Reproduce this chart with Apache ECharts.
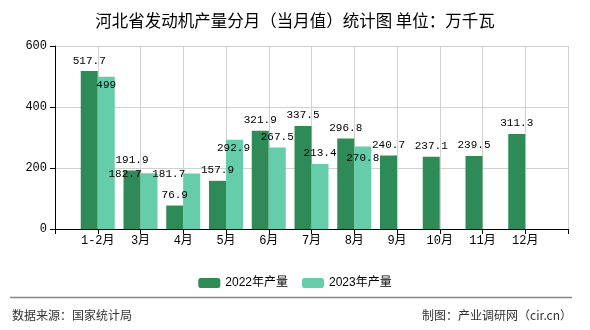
<!DOCTYPE html>
<html>
<head>
<meta charset="utf-8">
<script src="https://cdn.jsdelivr.net/npm/echarts@6/dist/echarts.min.js"></script>
<style>
html,body{margin:0;padding:0;background:#fff;}
#chart{width:590px;height:330px;}
</style>
</head>
<body>
<div id="chart"></div>
<script>
var categories = ['1-2月','3月','4月','5月','6月','7月','8月','9月','10月','11月','12月'];
var values2022 = [517.7,191.9,76.9,157.9,321.9,337.5,296.8,240.7,237.1,239.5,311.3];
var values2023 = [499,182.7,181.7,292.9,267.5,213.4,270.8];
var yTicks = [0,200,400,600];
var seriesNames = ['2022年产量','2023年产量'];
var titleText = '河北省发动机产量分月（当月值）统计图 单位：万千瓦';
var sourceText = '数据来源：国家统计局';
var makerText = '制图：产业调研网（cir.cn）';

// label offsets (style only)
var offsets2023 = [[0,19],[-24,11],[-23,11],[-1,19],[0,0],[0,0],[0,22]];

var axisData = [''].concat(categories).concat(['']);
function pad(arr){
  var out = ['-'];
  for (var i=0;i<categories.length;i++){ out.push(i<arr.length ? arr[i] : '-'); }
  out.push('-');
  return out;
}
var d2022 = pad(values2022);
var d2023 = pad(values2023).map(function(v,i){
  var k = i-1;
  if (v === '-' || !offsets2023[k]) return v;
  return {value: v, label: {offset: offsets2023[k]}};
});

var mono = "'Liberation Mono','DejaVu Sans Mono',monospace";
var chart = echarts.init(document.getElementById('chart'), null, {renderer:'canvas'});
chart.setOption({
  animation: false,
  backgroundColor: '#fff',
  title: {
    text: titleText, left: 'center', top: 7,
    textStyle: {fontSize: 16.5, fontWeight: 'normal', color: '#000', fontFamily: "'Noto Sans CJK SC',sans-serif"}
  },
  legend: {
    data: seriesNames, left: 'center', top: 272, itemWidth: 22, itemHeight: 10, itemGap: 14,
    textStyle: {fontSize: 12, color: '#000', fontFamily: "'Liberation Sans','Noto Sans CJK SC',sans-serif"}
  },
  grid: {left: 55, right: 22, top: 46, bottom: 101, containLabel: false},
  xAxis: {
    type: 'category', data: axisData, boundaryGap: false,
    axisLine: {lineStyle: {color: '#000', width: 1}},
    axisTick: {show: true, interval: 0, length: 5, lineStyle: {color: '#000'}},
    axisLabel: {interval: 0, fontSize: 12, color: '#000', margin: 6, fontFamily: "'Liberation Mono','Noto Sans CJK SC',monospace"},
    splitLine: {show: true, interval: 0, lineStyle: {color: '#d0d0d0', width: 1}}
  },
  yAxis: {
    type: 'value', min: yTicks[0], max: yTicks[yTicks.length-1], interval: 200,
    axisLine: {show: true, lineStyle: {color: '#000', width: 1}},
    axisTick: {show: true, length: 5, lineStyle: {color: '#000'}},
    axisLabel: {fontSize: 12, color: '#000', margin: 8, fontFamily: mono},
    splitLine: {show: true, lineStyle: {color: '#d0d0d0', width: 1}}
  },
  series: [
    {
      name: seriesNames[0], type: 'bar', data: d2022, barWidth: 17, barGap: '0%',
      itemStyle: {color: '#2E8B57'},
      label: {show: true, position: 'top', distance: 5, fontSize: 11, color: '#000', fontFamily: mono}
    },
    {
      name: seriesNames[1], type: 'bar', data: d2023, barWidth: 17, barGap: '0%',
      itemStyle: {color: '#66CDAA'},
      label: {show: true, position: 'top', distance: 5, fontSize: 11, color: '#000', fontFamily: mono}
    }
  ],
  graphic: [
    {type: 'line', shape: {x1: 10, y1: 297.5, x2: 572, y2: 297.5}, style: {stroke: '#888', lineWidth: 1.5}},
    {type: 'text', left: 12, top: 309, style: {text: sourceText, fontSize: 12, fill: '#333', fontFamily: "'Noto Sans CJK SC',sans-serif"}},
    {type: 'text', right: 18, top: 309, style: {text: makerText, fontSize: 12, fill: '#333', fontFamily: "'Noto Sans CJK SC',sans-serif"}}
  ]
});
</script>
</body>
</html>
